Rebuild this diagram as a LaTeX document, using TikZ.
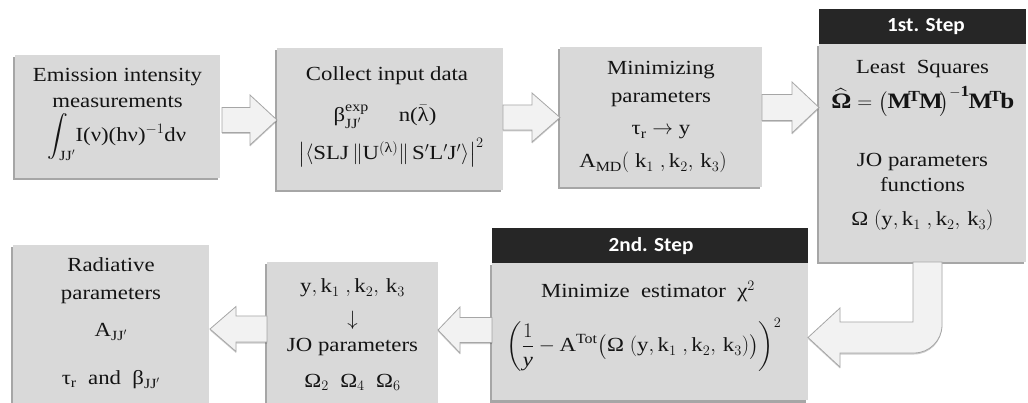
\documentclass[tikz,border=0pt]{standalone}
\usepackage{fontspec}
\usepackage{amsmath}
\setmainfont{Liberation Serif}[FakeStretch=1.14]
\newfontfamily\hdfont{Carlito}[FakeStretch=1.06]
\usetikzlibrary{shadows}

\definecolor{boxgray}{HTML}{D9D9D9}
\definecolor{hdblack}{HTML}{262626}
\definecolor{arrfill}{HTML}{F2F2F2}
\definecolor{arredge}{HTML}{A6A6A6}
\definecolor{ink}{HTML}{141414}

% upright text inside formulas
\newcommand\tx[1]{\text{#1}}
% horizontal block arrow: tail x, tip x, centre y, half shaft, half head, head base x
\newcommand\blockarrow[6]{%
  \draw[blk] ({#1},{#3-#4}) -- ({#6},{#3-#4}) -- ({#6},{#3-#5}) -- ({#2},{#3})
    -- ({#6},{#3+#5}) -- ({#6},{#3+#4}) -- ({#1},{#3+#4}) -- cycle;}

\begin{document}
\begin{tikzpicture}[x=1pt,y=-1pt,
  font=\fontsize{20}{24}\selectfont,
  box/.style={rectangle, fill=boxgray, draw=none, inner sep=0pt,
    drop shadow={shadow xshift=-2.5pt, shadow yshift=-2.5pt, fill=black, opacity=0.35}},
  head/.style={rectangle, fill=hdblack, draw=none, inner sep=0pt},
  headtxt/.style={anchor=base, inner sep=0pt, text=white,
    font=\hdfont\bfseries\fontsize{20}{24}\selectfont},
  txt/.style={anchor=base, inner sep=0pt, text=ink},
  blk/.style={fill=arrfill, draw=arredge, line width=0.8pt, line join=miter,
    drop shadow={shadow xshift=0pt, shadow yshift=-1.5pt, fill=black, opacity=0.2}}]

\useasboundingbox (0,0) rectangle (1028,403);

% ---- boxes ----
\node[box, minimum width=205pt, minimum height=123pt] (b1) at (117.5,116.5) {};
\node[box, minimum width=226pt, minimum height=142pt] (b2) at (390,119) {};
\node[box, minimum width=202pt, minimum height=140pt] (b3) at (661,117) {};
\node[box, minimum width=207pt, minimum height=218pt] (b4) at (922.5,153) {};
\node[head, minimum width=207pt, minimum height=35pt] (h4) at (922.5,26.5) {};
\node[box, minimum width=316pt, minimum height=137pt] (b7) at (650,331.5) {};
\node[head, minimum width=316pt, minimum height=35pt] (h7) at (650,245.5) {};
\node[box, minimum width=171pt, minimum height=150pt] (b5) at (352.5,337) {};
\node[box, minimum width=196pt, minimum height=167pt] (b6) at (111,328.5) {};

% ---- block arrows ----
\blockarrow{222}{277}{120}{12.5}{25}{250}
\blockarrow{503}{560}{117.5}{12.5}{24.5}{532}
\blockarrow{762}{819}{107.5}{13}{25.5}{792}
\blockarrow{492}{438}{330}{12.5}{23}{460}
\blockarrow{267}{210}{329}{13}{22.5}{236}
% bent arrow from the first step down to the second step
\coordinate (c0) at (913,262);
\coordinate (c1) at (942,262);
\draw[blk] (c0) -- (913,322) -- (840,322) -- (840,308) -- (808,337.5)
  -- (840,367) -- (840,353) [rounded corners=28pt]-- (942,353)
  [sharp corners]-- (c1) -- cycle;

% ---- texts ----
\node[txt] (t1a) at (117.5,82) {Emission intensity};
\node[txt] (t1b) at (117.5,108) {measurements};
\node[txt] (t1c) at (117,142) {$\displaystyle\int_{\tx{JJ}'}\!\tx{I(ν)(hν)}^{-1}\tx{dν}$};

\node[txt] (t2a) at (387,80.5) {Collect input data};
\node[txt] (t2b) at (385,121.5) {$\tx{β}^{\tx{exp}}_{\tx{JJ}'}$\hspace{1.5em}n($\bar{\tx{λ}}$)};
\node[txt] (t2c) at (391,160) {$\left|\langle\tx{SLJ}\,\|\tx{U}^{(\tx{λ})}\|\,\tx{S}'\tx{L}'\tx{J}'\rangle\right|^{2}$};

\node[txt] (t3a) at (661,75) {Minimizing};
\node[txt] (t3b) at (661,103) {parameters};
\node[txt] (t3c) at (661,135) {$\tx{τ}_{\tx{r}}\rightarrow\tx{y}$};
\node[txt] (t3d) at (653,168) {$\tx{A}_{\tx{MD}}(\;\tx{k}_1\;,\tx{k}_2,\,\tx{k}_3)$};

\node[headtxt] (t4h) at (926,32) {1st. Step};
\node[txt] (t4a) at (922.5,74) {Least\ \ Squares};
\node[txt] (t4b) at (922,109) {\fontsize{22}{24}\selectfont
  $\widehat{\tx{\bfseries Ω}} = \bigl(\mathbf{M}^{\mathbf{T}}\mathbf{M}\bigr)^{-\mathbf{1}}\mathbf{M}^{\mathbf{T}}\mathbf{b}$};
\node[txt] (t4c) at (922.5,167) {JO parameters};
\node[txt] (t4d) at (922.5,192) {functions};
\node[txt] (t4e) at (922.5,226) {$\tx{Ω}\ (\tx{y},\tx{k}_1\;,\tx{k}_2,\,\tx{k}_3)$};

\node[headtxt] (t7h) at (651,252) {2nd. Step};
\node[txt] (t7a) at (648,298) {Minimize\ \ estimator\ \ $\tx{χ}^2$};
\node[txt] (t7b) at (644,352) {$\displaystyle\left(\frac{1}{\tx{\itshape y}}-\tx{A}^{\tx{Tot}}\bigl(\tx{Ω}\ (\tx{y},\tx{k}_1\;,\tx{k}_2,\,\tx{k}_3)\bigr)\right)^{2}$};

\node[txt] (t5a) at (352.5,293) {$\tx{y},\tx{k}_1\;,\tx{k}_2,\,\tx{k}_3$};
\node[txt] (t5b) at (352.5,326) {$\downarrow$};
\node[txt] (t5c) at (352.5,352) {JO parameters};
\node[txt] (t5d) at (352.5,387) {$\tx{Ω}_2\ \ \tx{Ω}_4\ \ \tx{Ω}_6$};

\node[txt] (t6a) at (111,272) {Radiative};
\node[txt] (t6b) at (111,300) {parameters};
\node[txt] (t6c) at (111,337) {$\tx{A}_{\tx{JJ}'}$};
\node[txt] (t6d) at (111,384) {$\tx{τ}_{\tx{r}}$\ \ and\ \ $\tx{β}_{\tx{JJ}'}$};
\end{tikzpicture}
\end{document}
